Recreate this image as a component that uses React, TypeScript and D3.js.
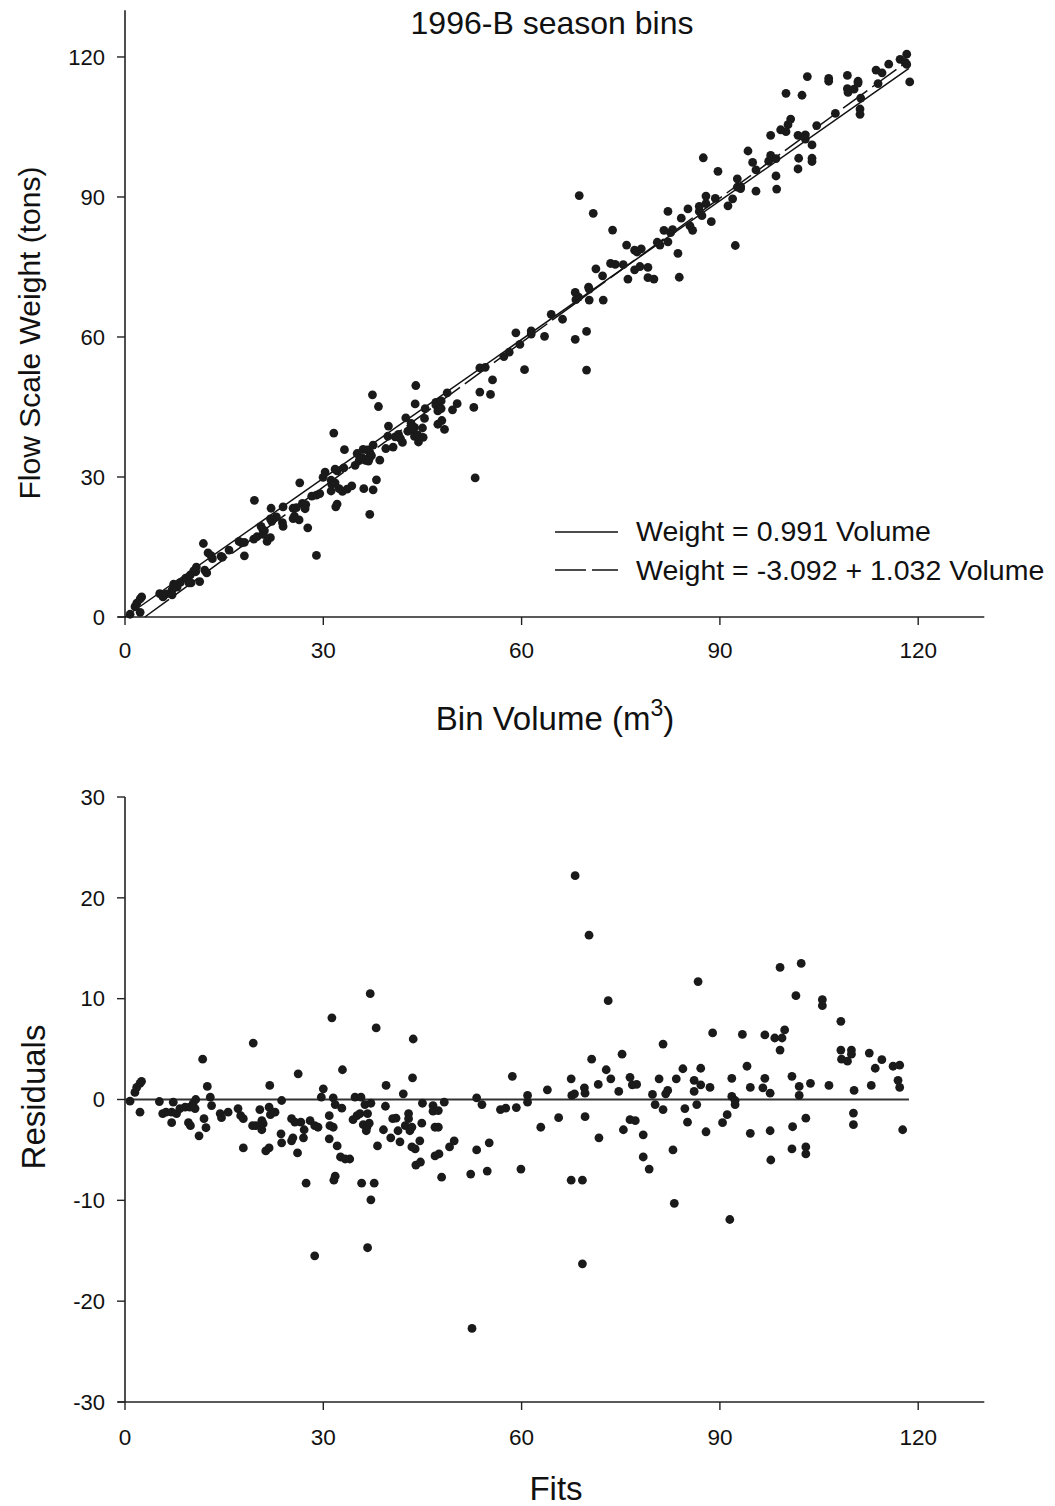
import React from "react";
import * as d3 from "d3";

// Fitted values and residuals (tons)
const fits: number[] = [
  0.76, 1.5, 1.77, 2.27, 2.5, 2.27, 5.2, 5.7, 6.2, 7.06, 7.3, 7.06, 7.8, 8.3, 9.1, 9.8, 9.6, 9.9, 10.3, 10.7,
  10.6, 11.2, 11.75, 11.95, 12.25, 12.45, 12.9, 13.1, 14.4, 14.6, 15.6, 17.1, 17.5, 17.9, 17.9, 19.4, 19.3, 19.8, 20.4, 20.7,
  20.9, 20.7, 21.8, 21.9, 22.0, 22.7, 21.3, 21.8, 23.7, 23.6, 23.7, 25.2, 25.7, 25.4, 25.2, 26.2, 26.6, 26.1, 27.1, 27.0,
  27.4, 28.0, 28.7, 29.2, 28.7, 29.7, 30.0, 31.3, 30.9, 31.0, 31.5, 30.9, 31.5, 31.8, 32.1, 31.8, 31.6, 32.8, 32.9, 32.6,
  33.3, 34.0, 34.5, 34.8, 35.1, 35.7, 35.55, 35.8, 36.05, 36.3, 36.6, 36.7, 36.7, 36.5, 36.95, 37.1, 37.2, 37.2, 37.7, 38.0,
  38.2, 39.5, 39.4, 39.1, 40.2, 40.5, 41.0, 41.3, 41.6, 42.1, 42.9, 42.9, 42.4, 43.4, 43.1, 43.6, 43.5, 43.4, 43.9, 44.0,
  44.7, 44.6, 44.9, 45.0, 46.6, 46.6, 47.4, 46.9, 47.4, 46.9, 47.5, 47.9, 48.3, 49.1, 49.8, 52.3, 52.5, 53.2, 54.0, 53.2,
  54.8, 55.1, 56.8, 57.6, 58.6, 59.2, 59.9, 60.9, 60.9, 62.9, 63.9, 65.6, 67.5, 67.6, 68.0, 67.5, 68.1, 69.2, 69.2, 69.5,
  69.6, 69.6, 70.2, 70.6, 71.6, 71.7, 72.8, 73.1, 73.5, 74.7, 75.2, 75.4, 76.4, 76.75, 77.4, 76.4, 77.2, 78.4, 78.4, 79.3,
  79.8, 80.2, 80.8, 81.4, 81.4, 81.8, 82.1, 82.9, 83.1, 83.4, 84.4, 84.7, 85.1, 86.1, 86.1, 86.5, 86.7, 87.1, 87.1, 87.9,
  88.5, 88.9, 90.4, 91.1, 91.5, 91.8, 91.8, 92.3, 92.3, 93.4, 94.1, 94.6, 94.6, 96.5, 96.8, 96.8, 97.6, 97.6, 97.7, 98.3,
  99.1, 99.1, 99.4, 99.8, 100.9, 101.0, 100.9, 101.5, 102.0, 102.0, 102.3, 103.0, 103.0, 103.0, 103.7, 105.5, 105.5, 106.5, 108.3, 108.3,
  108.4, 109.3, 109.9, 109.9, 110.2, 110.2, 110.3, 112.6, 112.9, 113.5, 114.5, 116.2, 117.2, 116.95, 117.2, 117.65,
];
const residuals: number[] = [
  -0.17, 0.7, 1.2, 1.6, 1.8, -1.26, -0.2, -1.4, -1.26, -1.26, -0.27, -2.3, -1.4, -0.9, -0.76, -0.76, -2.3, -2.6, -0.4, 0,
  -0.9, -3.6, 4.0, -1.9, -2.8, 1.3, 0.23, -0.6, -1.4, -1.8, -1.26, -0.9, -1.6, -1.9, -4.8, 5.6, -2.6, -2.6, -1.0, -2.1,
  -2.4, -3.0, -0.76, 1.4, -1.5, -1.26, -5.1, -4.8, -0.1, -3.4, -4.3, -1.9, -2.25, -3.8, -4.1, 2.55, -2.25, -5.3, -3.0, -3.8,
  -8.3, -2.1, -2.6, -2.75, -15.5, 0.23, 1.06, 8.1, -1.6, -2.6, -2.75, -3.9, 0.17, -0.5, -4.6, -7.6, -8.0, -0.86, 2.95, -5.7,
  -5.9, -5.9, -2.0, 0.23, -1.6, 0.23, -1.4, -8.3, -2.5, -0.5, -2.75, -14.7, -1.4, -3.1, -2.35, 10.5, -9.95, -0.37, -8.3, 7.1,
  -4.6, 1.4, -0.67, -3.0, -3.8, -1.9, -1.85, -3.1, -4.2, 0.56, -1.4, -1.9, -2.6, -2.75, -3.1, 6.0, 2.15, -4.7, -4.9, -6.5,
  -6.2, -4.1, -2.35, -0.37, -0.6, -1.16, -1.1, -2.75, -2.75, -5.6, -5.4, -7.7, -0.27, -4.7, -4.1, -7.4, -22.7, 0.17, -0.5, -5.0,
  -7.1, -4.3, -1.0, -0.86, 2.3, -0.8, -6.9, 0.4, -0.27, -2.75, 0.96, -1.8, 2.05, 0.4, 0.56, -8.0, 22.2, -8.0, -16.3, 1.16,
  0.63, -1.7, 16.3, 4.0, 1.5, -3.8, 2.95, 9.8, 2.05, 0.8, 4.5, -3.0, 2.2, 1.46, 1.5, -2.0, -2.1, -3.5, -5.7, -6.9,
  0.5, -0.5, 2.05, 5.5, -1.0, 0.56, 0.9, -5.0, -10.3, 2.05, 3.05, -0.9, -2.25, 1.9, 0.8, -0.5, 11.7, 3.1, 1.46, -3.2,
  1.2, 6.6, -2.3, -1.5, -11.9, 2.1, 0.3, -0.1, -0.5, 6.45, 3.3, 1.2, -3.35, 1.16, 2.1, 6.4, 0.63, -3.1, -6.0, 6.1,
  13.1, 4.9, 6.1, 6.9, 2.3, -2.7, -4.9, 10.3, 1.3, 0.4, 13.5, -1.85, -4.7, -5.4, 1.6, 9.9, 9.3, 1.4, 7.75, 4.9,
  4.0, 3.8, 4.9, 4.5, -1.35, -2.5, 0.9, 4.6, 1.4, 3.1, 3.95, 3.3, 3.4, 1.9, 1.2, -3.0,
];

// Regression fits shown in the legend
const slopeThroughOrigin = 0.991;
const interceptFull = -3.092;
const slopeFull = 1.032;
const lineVolumeMax = 118.6;

const xTicks = [0, 30, 60, 90, 120];
const yTicksTop = [0, 30, 60, 90, 120];
const yTicksBottom = [-30, -20, -10, 0, 10, 20, 30];

const legendLabels = ["Weight = 0.991 Volume", "Weight = -3.092 + 1.032 Volume"];

// Top-panel points derived from the residual-panel reading
const volumes = fits.map((f) => f / slopeThroughOrigin);
const weights = fits.map((f, i) => f + residuals[i]);

const FONT = "'Liberation Sans', Arial, sans-serif";

export default function App() {
  const x = d3.scaleLinear().domain([0, 130]).range([125, 984.3]);
  const yTop = d3.scaleLinear().domain([0, 130]).range([617, 10.3]);
  const yBot = d3.scaleLinear().domain([-30, 30]).range([1402, 797]);

  const solidLine = d3.line<number>()
    .x((v) => x(v))
    .y((v) => yTop(slopeThroughOrigin * v));
  const dashedX0 = -interceptFull / slopeFull;
  const dashedLine = d3.line<number>()
    .x((v) => x(v))
    .y((v) => yTop(interceptFull + slopeFull * v));

  const dotFill = "#1a1a1a";
  const axisColor = "#222";
  const txt = "#111";

  return (
    <svg
      width={1055}
      height={1506}
      style={{ position: "absolute", left: 0, top: 0, background: "#fff" }}
      fontFamily={FONT}
    >
      {/* ===== TOP PANEL ===== */}
      <text x={552} y={34} textAnchor="middle" fontSize={32} fill={txt}>
        1996-B season bins
      </text>

      <line x1={x(0)} x2={x(0)} y1={yTop(130)} y2={yTop(0)} stroke={axisColor} strokeWidth={1.6} />
      <line x1={118} x2={x(130)} y1={yTop(0)} y2={yTop(0)} stroke={axisColor} strokeWidth={1.6} />
      {yTicksTop.map((t) => (
        <g key={"yt" + t}>
          <line x1={117} x2={x(0)} y1={yTop(t)} y2={yTop(t)} stroke={axisColor} strokeWidth={1.4} />
          <text x={105} y={yTop(t)} dy="0.35em" textAnchor="end" fontSize={22} fill={txt}>
            {t}
          </text>
        </g>
      ))}
      {xTicks.map((t) => (
        <g key={"xt" + t}>
          <line x1={x(t)} x2={x(t)} y1={yTop(0)} y2={yTop(0) + 8} stroke={axisColor} strokeWidth={1.4} />
          <text x={x(t)} y={658} textAnchor="middle" fontSize={22.5} fill={txt}>
            {t}
          </text>
        </g>
      ))}

      <path d={solidLine([0, lineVolumeMax]) || ""} fill="none" stroke="#111" strokeWidth={1.5} />
      <path
        d={dashedLine([dashedX0, lineVolumeMax]) || ""}
        fill="none"
        stroke="#111"
        strokeWidth={1.5}
        strokeDasharray="30,6"
      />

      {volumes.map((v, i) => (
        <circle key={"p" + i} cx={x(v)} cy={yTop(weights[i])} r={4.4} fill={dotFill} />
      ))}

      {/* legend */}
      <line x1={555} x2={618} y1={532} y2={532} stroke="#111" strokeWidth={1.5} />
      <text x={636} y={541} fontSize={28.5} fill={txt}>{legendLabels[0]}</text>
      <line x1={555} x2={618} y1={570} y2={570} stroke="#111" strokeWidth={1.5} strokeDasharray="31,6" />
      <text x={636} y={580} fontSize={28.5} fill={txt}>{legendLabels[1]}</text>

      <text x={555} y={730} textAnchor="middle" fontSize={33} fill={txt}>
        Bin Volume (m<tspan dy={-14} fontSize={23}>3</tspan><tspan dy={14}>)</tspan>
      </text>
      <text transform={`translate(40,333) rotate(-90)`} textAnchor="middle" fontSize={30} fill={txt}>
        Flow Scale Weight (tons)
      </text>

      {/* ===== BOTTOM PANEL ===== */}
      <line x1={x(0)} x2={x(0)} y1={yBot(30)} y2={yBot(-30)} stroke={axisColor} strokeWidth={1.6} />
      <line x1={118} x2={x(130)} y1={yBot(-30)} y2={yBot(-30)} stroke={axisColor} strokeWidth={1.6} />
      {yTicksBottom.map((t) => (
        <g key={"yb" + t}>
          <line x1={117} x2={x(0)} y1={yBot(t)} y2={yBot(t)} stroke={axisColor} strokeWidth={1.4} />
          <text x={105} y={yBot(t)} dy="0.35em" textAnchor="end" fontSize={22} fill={txt}>
            {t}
          </text>
        </g>
      ))}
      {xTicks.map((t) => (
        <g key={"xb" + t}>
          <line x1={x(t)} x2={x(t)} y1={yBot(-30)} y2={yBot(-30) + 8} stroke={axisColor} strokeWidth={1.4} />
          <text x={x(t)} y={1445} textAnchor="middle" fontSize={22.5} fill={txt}>
            {t}
          </text>
        </g>
      ))}

      <line x1={x(0)} x2={x(lineVolumeMax)} y1={yBot(0)} y2={yBot(0)} stroke="#333" strokeWidth={1.8} />

      {fits.map((f, i) => (
        <circle key={"r" + i} cx={x(f)} cy={yBot(residuals[i])} r={4.4} fill={dotFill} />
      ))}

      <text x={556} y={1500} textAnchor="middle" fontSize={33} fill={txt}>
        Fits
      </text>
      <text transform={`translate(45,1097) rotate(-90)`} textAnchor="middle" fontSize={33} fill={txt}>
        Residuals
      </text>
    </svg>
  );
}
